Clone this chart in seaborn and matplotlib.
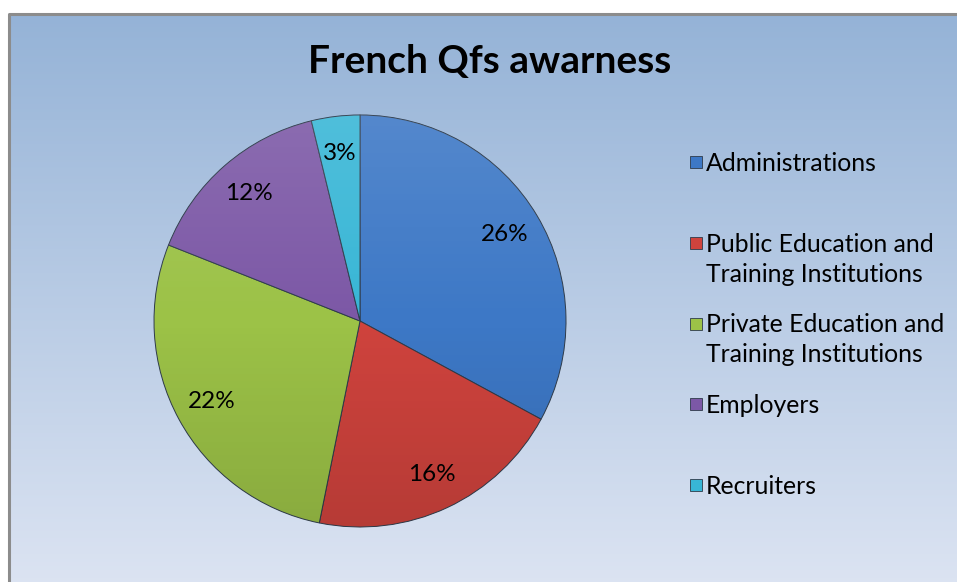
import numpy as np
import matplotlib
matplotlib.use('Agg')
import matplotlib.pyplot as plt
import seaborn as sns
from matplotlib.patches import Rectangle, Circle

sns.set_style('white')
plt.rcParams['font.family'] = ['Lato', 'DejaVu Sans']

# chart data
categories = ['Administrations',
              'Public Education and\nTraining Institutions',
              'Private Education and\nTraining Institutions',
              'Employers',
              'Recruiters']
values = [26, 16, 22, 12, 3]
slice_colors = ['#3d78c6', '#cf433d', '#9cc247', '#7c58a6', '#38b6d6']
title = 'French Qfs awarness'

W, H = 957, 582
fig = plt.figure(figsize=(W / 100, H / 100), dpi=100)
fig.patch.set_facecolor('white')

# background axes over the whole figure, in pixel units
bg = fig.add_axes([0, 0, 1, 1])
bg.set_zorder(0)
bg.set_xlim(0, W)
bg.set_ylim(H, 0)
bg.axis('off')
top_col = np.array([0.584, 0.702, 0.843])
bot_col = np.array([0.870, 0.898, 0.953])
t = np.linspace(0, 1, 256)[:, None]
grad = top_col * (1 - t)[..., None] + bot_col * t[..., None]
bg.imshow(np.repeat(grad, 2, axis=1), aspect='auto', extent=(9, W + 20, H + 20, 14),
          interpolation='bilinear')
bg.set_xlim(0, W)
bg.set_ylim(H, 0)
# chart frame: only the left and top edges are inside the picture
bg.plot([9, 9, W + 20], [H + 20, 14, 14], color='#8c8c8c', lw=2.2)
bg.set_xlim(0, W)
bg.set_ylim(H, 0)

# pie
cx, cy, r = 360, 321, 206
ax = fig.add_axes([(cx - r) / W, (H - cy - r) / H, 2 * r / W, 2 * r / H])
ax.set_zorder(1)
wedges, texts, autotexts = ax.pie(
    values, colors=slice_colors, startangle=90, counterclock=False,
    autopct=lambda p: '%d%%' % round(p * sum(values) / 100),
    pctdistance=0.82,
    wedgeprops=dict(edgecolor='#2e3b4a', linewidth=0.7),
    textprops=dict(fontsize=17.5, color='black'))

# soft shading over the pie: lighter on top, darker at the bottom
shade = np.zeros((256, 2, 4))
tt = np.linspace(0, 1, 256)
shade[:, :, :3] = np.where(tt[:, None, None] < 0.5, 1.0, 0.0)
shade[:, :, 3] = (np.abs(tt - 0.5) * 0.24)[:, None]
im = ax.imshow(shade, extent=(-1, 1, -1, 1), aspect='auto', zorder=2)
im.set_clip_path(Circle((0, 0), 1, transform=ax.transData))
for a in autotexts:
    a.set_zorder(3)
ax.set_xlim(-1, 1)
ax.set_ylim(-1, 1)

# title
fig.text(490 / W, 1 - 62 / H, title, ha='center', va='center',
         fontsize=28, fontweight='bold', color='black')

# legend (entries laid out in equal slots, first line aligned with marker)
for i, (lab, col) in enumerate(zip(categories, slice_colors)):
    y = 1 - (162 + i * 80.75) / H
    fig.add_artist(Rectangle((690 / W, y - 6 / H), 12 / W, 12 / H,
                             facecolor=col, edgecolor='#2e3b4a', lw=0.6,
                             transform=fig.transFigure))
    fig.text(706 / W, y + 10 / H, lab, ha='left', va='top',
             fontsize=17.8, color='black', linespacing=1.36)

fig.savefig('out.png', dpi=100)
